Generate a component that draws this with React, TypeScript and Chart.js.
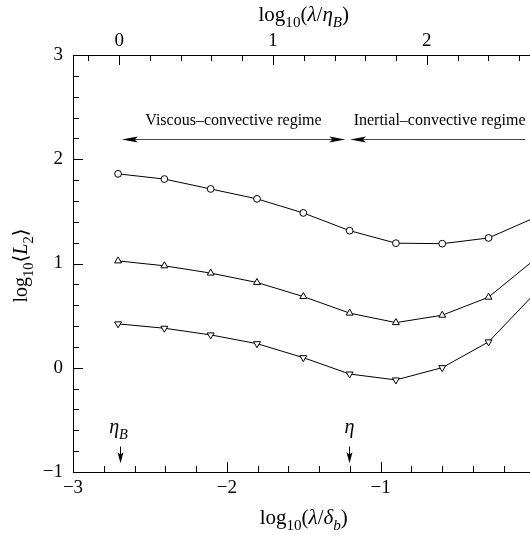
import React, { useEffect, useRef } from 'react';
import { Chart, registerables } from 'chart.js';

Chart.register(...registerables);

// ---- data ----
const xValues = [-2.707, -2.406, -2.105, -1.804, -1.503, -1.202, -0.901, -0.6, -0.299, 0.002];
const circleSeries = [1.86, 1.81, 1.715, 1.62, 1.485, 1.315, 1.195, 1.19, 1.245, 1.44];
const upTriangleSeries = [1.025, 0.978, 0.908, 0.818, 0.683, 0.524, 0.433, 0.504, 0.677, 1.04];
const downTriangleSeries = [0.421, 0.379, 0.315, 0.231, 0.097, -0.06, -0.117, 0.001, 0.248, 0.713];

const xMin = -3;
const xMax = 0.25;
const yMin = -1;
const yMax = 3;
const topAxisOffset = 2.7; // log10(eta_B / delta_b)

const markerXs = [-2.696, -1.203];
const markerNames = ['η', 'η'];
const markerSubs = ['B', ''];

const regimeLabels = ['Viscous–convective regime', 'Inertial–convective regime'];
const regimeLabelXs = [-1.957, -0.617];
const regimeStarts = [-2.683, -1.199];
const regimeEnds = [-1.23, -0.06];
const regimeEndHeads = [true, false];

const FONT = '"Liberation Serif", "DejaVu Serif", serif';

type Seg = { t: string; it?: boolean; sub?: boolean };

function segFont(s: Seg, size: number) {
  const sz = s.sub ? size * 0.72 : size;
  return `${s.it ? 'italic ' : ''}${sz}px ${FONT}`;
}

function drawRich(ctx: CanvasRenderingContext2D, segs: Seg[], x: number, y: number, size: number) {
  let total = 0;
  const widths = segs.map((s) => {
    ctx.font = segFont(s, size);
    const w = ctx.measureText(s.t).width;
    total += w;
    return w;
  });
  let cx = x - total / 2;
  ctx.textBaseline = 'alphabetic';
  ctx.textAlign = 'left';
  segs.forEach((s, i) => {
    ctx.font = segFont(s, size);
    ctx.fillText(s.t, cx, y + (s.sub ? size * 0.28 : 0));
    cx += widths[i];
  });
}

function arrowHead(ctx: CanvasRenderingContext2D, x: number, y: number, angle: number, len: number, half: number) {
  ctx.save();
  ctx.translate(x, y);
  ctx.rotate(angle);
  ctx.beginPath();
  ctx.moveTo(0, 0);
  ctx.lineTo(-len, -half);
  ctx.lineTo(-len * 0.8, 0);
  ctx.lineTo(-len, half);
  ctx.closePath();
  ctx.fill();
  ctx.restore();
}

const isMajor = (v: number) => Math.abs(v - Math.round(v)) < 1e-6;
const fmt = (v: any) => {
  const n = Number(v);
  if (!isMajor(n)) return '';
  const r = Math.round(n);
  return r < 0 ? '−' + Math.abs(r) : String(Math.abs(r));
};

const decorPlugin = {
  id: 'decor',
  afterDraw(chart: any) {
    const ctx: CanvasRenderingContext2D = chart.ctx;
    const { left, right, top, bottom } = chart.chartArea;
    const xs = chart.scales.x;
    const xt = chart.scales.x2;
    const ys = chart.scales.y;
    ctx.save();
    ctx.fillStyle = '#000';
    // frame (left, top, bottom)
    const L = Math.round(left);
    const T = Math.round(top);
    const B = Math.round(bottom);
    ctx.fillRect(L, T, Math.round(right) - L, 1);
    ctx.fillRect(L, B, Math.round(right) - L, 1);
    ctx.fillRect(L, T, 1, B - T + 1);
    // ticks (inward)
    xs.ticks.forEach((t: any) => {
      const p = Math.round(xs.getPixelForValue(t.value));
      if (p < L || p > right) return;
      const len = isMajor(t.value) ? 10 : 6;
      ctx.fillRect(p, B - len, 1, len);
    });
    xt.ticks.forEach((t: any) => {
      const p = Math.round(xt.getPixelForValue(t.value));
      if (p < L + 1 || p > right) return;
      const len = isMajor(t.value) ? 10 : 6;
      ctx.fillRect(p, T, 1, len);
    });
    ys.ticks.forEach((t: any) => {
      const p = Math.round(ys.getPixelForValue(t.value));
      if (p < T || p > B) return;
      const len = isMajor(t.value) ? 10 : 6;
      ctx.fillRect(L, p, len, 1);
    });

    // regime arrows
    ctx.lineWidth = 1;
    const ay = Math.round(ys.getPixelForValue(2.195)) + 0.5;
    regimeLabels.forEach((lab, i) => {
      const x1 = xs.getPixelForValue(regimeStarts[i]);
      const x2 = xs.getPixelForValue(regimeEnds[i]);
      ctx.strokeStyle = '#444';
      ctx.beginPath();
      ctx.moveTo(x1 + 8, ay);
      ctx.lineTo(regimeEndHeads[i] ? x2 - 8 : x2, ay);
      ctx.stroke();
      ctx.fillStyle = '#000';
      arrowHead(ctx, x1, ay, Math.PI, 16, 3);
      if (regimeEndHeads[i]) arrowHead(ctx, x2, ay, 0, 16, 3);
      ctx.font = `16px ${FONT}`;
      ctx.textAlign = 'center';
      ctx.textBaseline = 'alphabetic';
      ctx.fillText(lab, xs.getPixelForValue(regimeLabelXs[i]), ys.getPixelForValue(2.33));
    });

    // eta markers
    ctx.strokeStyle = '#000';
    markerXs.forEach((mx, i) => {
      const px = Math.round(xs.getPixelForValue(mx)) + 0.5;
      const y1 = ys.getPixelForValue(-0.756);
      const y2 = ys.getPixelForValue(-0.917);
      ctx.beginPath();
      ctx.moveTo(px, y1);
      ctx.lineTo(px, y2 - 6);
      ctx.stroke();
      arrowHead(ctx, px, y2, Math.PI / 2, 11, 3);
      const sg: Seg[] = [{ t: markerNames[i], it: true }];
      if (markerSubs[i]) sg.push({ t: markerSubs[i], it: true, sub: true });
      drawRich(ctx, sg, px - (markerSubs[i] ? 2 : 0), ys.getPixelForValue(-0.626), 20);
    });

    // axis titles
    const cx = xs.getPixelForValue(-1.5);
    drawRich(
      ctx,
      [{ t: 'log' }, { t: '10', sub: true }, { t: '(' }, { t: 'λ', it: true }, { t: '/' }, { t: 'δ', it: true }, { t: 'b', it: true, sub: true }, { t: ')' }],
      cx,
      524,
      21
    );
    drawRich(
      ctx,
      [{ t: 'log' }, { t: '10', sub: true }, { t: '(' }, { t: 'λ', it: true }, { t: '/' }, { t: 'η', it: true }, { t: 'B', it: true, sub: true }, { t: ')' }],
      cx,
      21,
      21
    );
    ctx.save();
    ctx.translate(27, (top + bottom) / 2 + 2);
    ctx.rotate(-Math.PI / 2);
    drawRich(
      ctx,
      [{ t: 'log' }, { t: '10', sub: true }, { t: '⟨' }, { t: 'L', it: true }, { t: '2', sub: true }, { t: '⟩' }],
      0,
      0,
      20
    );
    ctx.restore();
    ctx.restore();
  },
};

export default function App() {
  const ref = useRef<HTMLCanvasElement | null>(null);
  useEffect(() => {
    if (!ref.current) return;
    const pts = (ys: number[]) => xValues.map((x, i) => ({ x, y: ys[i] }));
    const base = {
      showLine: true,
      borderColor: '#000',
      borderWidth: 1,
      pointBackgroundColor: '#fff',
      pointBorderColor: '#000',
      pointBorderWidth: 1,
    };
    const tickFont = { family: FONT, size: 19 };
    const chart = new Chart(ref.current, {
      type: 'scatter',
      data: {
        datasets: [
          { ...base, data: pts(circleSeries), pointStyle: 'circle', pointRadius: 3.4 },
          { ...base, data: pts(upTriangleSeries), pointStyle: 'triangle', pointRadius: 4 },
          { ...base, data: pts(downTriangleSeries), pointStyle: 'triangle', pointRotation: 180, pointRadius: 4 },
        ],
      } as any,
      options: {
        animation: false,
        responsive: false,
        devicePixelRatio: 1,
        layout: { padding: { left: 0, top: 0, right: 27, bottom: 0 } },
        plugins: { legend: { display: false }, tooltip: { enabled: false } },
        scales: {
          x: {
            type: 'linear',
            position: 'bottom',
            min: xMin,
            max: xMax,
            afterFit: (s: any) => {
              s.height = 63;
            },
            grid: { display: false, drawTicks: false },
            border: { display: false },
            ticks: { stepSize: 0.2, autoSkip: false, includeBounds: false, maxRotation: 0, padding: 5, color: '#000', font: tickFont, callback: fmt },
          },
          x2: {
            type: 'linear',
            axis: 'x',
            position: 'top',
            min: xMin + topAxisOffset,
            max: xMax + topAxisOffset,
            afterFit: (s: any) => {
              s.height = 55;
            },
            grid: { display: false, drawTicks: false },
            border: { display: false },
            ticks: { stepSize: 0.2, autoSkip: false, includeBounds: false, maxRotation: 0, padding: 3, color: '#000', font: tickFont, callback: fmt },
          },
          y: {
            type: 'linear',
            position: 'left',
            min: yMin,
            max: yMax,
            afterFit: (s: any) => {
              s.width = 73;
            },
            grid: { display: false, drawTicks: false },
            border: { display: false },
            ticks: { stepSize: 0.2, autoSkip: false, includeBounds: false, padding: 10, color: '#000', font: tickFont, callback: fmt },
          },
        },
      } as any,
      plugins: [decorPlugin],
    });
    return () => chart.destroy();
  }, []);
  return (
    <div style={{ position: 'fixed', left: 0, top: 0, width: 530, height: 535, overflow: 'hidden', background: '#fff' }}>
      <canvas ref={ref} width={600} height={535} style={{ width: 600, height: 535, display: 'block' }} />
    </div>
  );
}
